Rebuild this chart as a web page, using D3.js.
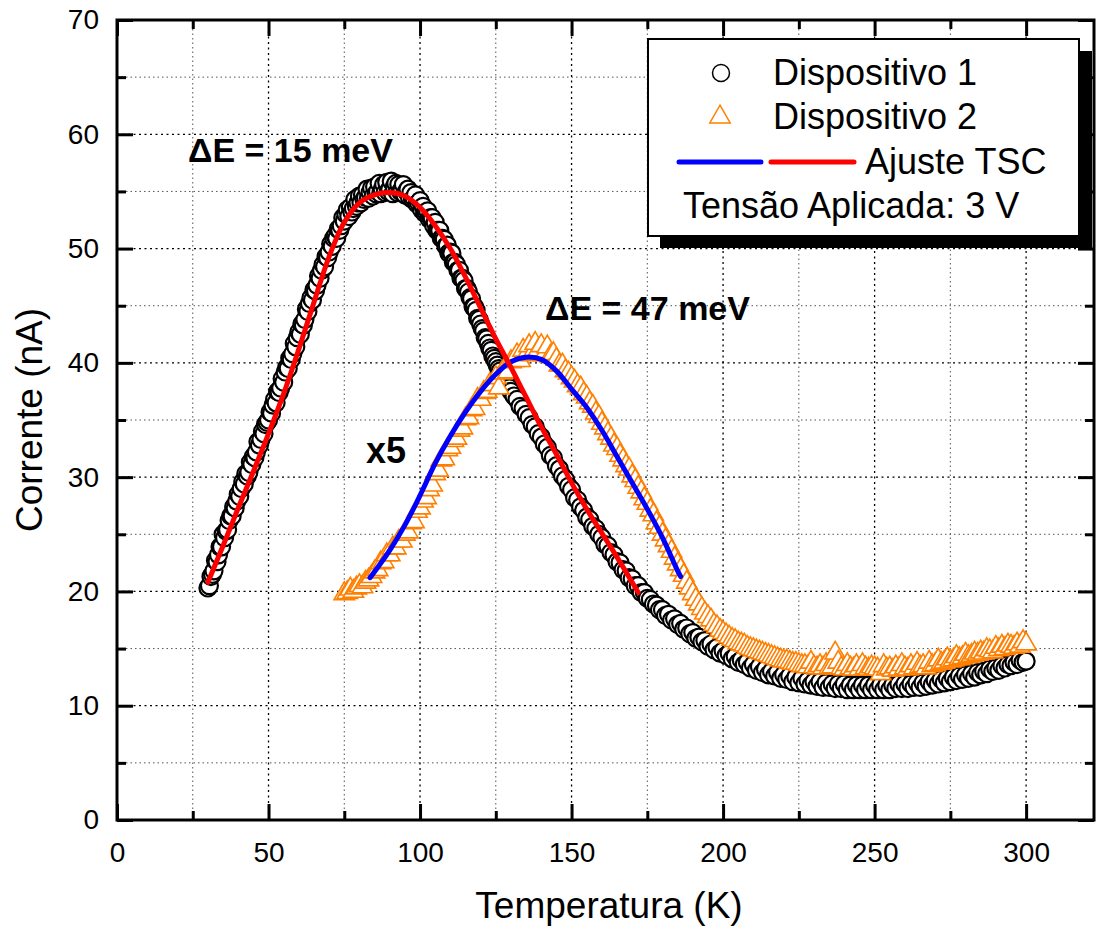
<!DOCTYPE html>
<html>
<head>
<meta charset="utf-8">
<script src="https://cdn.jsdelivr.net/npm/d3@7"></script>
<style>
  body { margin: 0; background: #fff; }
  svg { font-family: "Liberation Sans", Arial, sans-serif; }
</style>
</head>
<body>
<svg id="chart" width="1099" height="928"></svg>
<script>
// Dispositivo 1 (circulos): 0.5 K ate 130 K, depois 1 K
var dev1T = [
  30,30.5,31,31.5,32,32.5,33,33.5,34,34.5,35,35.5,36,36.5,37,37.5,38,38.5,39,39.5,
  40,40.5,41,41.5,42,42.5,43,43.5,44,44.5,45,45.5,46,46.5,47,47.5,48,48.5,49,49.5,
  50,50.5,51,51.5,52,52.5,53,53.5,54,54.5,55,55.5,56,56.5,57,57.5,58,58.5,59,59.5,
  60,60.5,61,61.5,62,62.5,63,63.5,64,64.5,65,65.5,66,66.5,67,67.5,68,68.5,69,69.5,
  70,70.5,71,71.5,72,72.5,73,73.5,74,74.5,75,75.5,76,76.5,77,77.5,78,78.5,79,79.5,
  80,80.5,81,81.5,82,82.5,83,83.5,84,84.5,85,85.5,86,86.5,87,87.5,88,88.5,89,89.5,
  90,90.5,91,91.5,92,92.5,93,93.5,94,94.5,95,95.5,96,96.5,97,97.5,98,98.5,99,99.5,
  100,100.5,101,101.5,102,102.5,103,103.5,104,104.5,105,105.5,106,106.5,107,107.5,108,108.5,109,109.5,
  110,110.5,111,111.5,112,112.5,113,113.5,114,114.5,115,115.5,116,116.5,117,117.5,118,118.5,119,119.5,
  120,120.5,121,121.5,122,122.5,123,123.5,124,124.5,125,125.5,126,126.5,127,127.5,128,128.5,129,129.5,
  130,131,132,133,134,135,136,137,138,139,140,141,142,143,144,145,146,147,148,149,
  150,151,152,153,154,155,156,157,158,159,160,161,162,163,164,165,166,167,168,169,
  170,171,172,173,174,175,176,177,178,179,180,181,182,183,184,185,186,187,188,189,
  190,191,192,193,194,195,196,197,198,199,200,201,202,203,204,205,206,207,208,209,
  210,211,212,213,214,215,216,217,218,219,220,221,222,223,224,225,226,227,228,229,
  230,231,232,233,234,235,236,237,238,239,240,241,242,243,244,245,246,247,248,249,
  250,251,252,253,254,255,256,257,258,259,260,261,262,263,264,265,266,267,268,269,
  270,271,272,273,274,275,276,277,278,279,280,281,282,283,284,285,286,287,288,289,
  290,291,292,293,294,295,296,297,298,299,300
];
var dev1I = [
  20.3,20.5,21.3,21.5,21.8,22.7,22.6,23.2,23.9,23.9, 25.0,24.7,25.3,25.4,26.2,26.6,26.6,27.4,27.3,27.9,
  28.5,28.3,29.0,29.6,29.4,30.3,30.1,30.4,31.3,31.1, 31.8,31.7,32.2,33.1,32.8,33.3,34.0,33.8,34.6,34.8,
  35.0,35.7,35.6,36.3,36.8,36.5,37.5,37.4,37.8,38.6, 38.3,39.2,39.6,39.5,40.4,40.3,40.8,41.7,41.4,42.2,
  42.7,42.5,43.4,43.3,43.8,44.7,44.5,45.2,45.7,45.5, 46.4,46.3,46.8,47.6,47.4,48.1,48.6,48.4,49.3,49.2,
  49.7,50.4,50.2,50.9,51.1,50.9,51.7,51.6,52.0,52.7, 52.4,53.0,53.4,52.8,53.6,53.2,53.5,54.3,53.7,54.0,
  54.6,54.0,54.7,54.3,54.5,55.2,54.4,54.9,55.3,54.6, 55.4,54.8,55.0,55.7,54.8,55.2,55.6,54.9,55.8,55.0,
  55.2,55.9,54.8,55.4,55.7,54.9,55.6,55.0,55.1,55.6, 54.7,55.0,55.2,54.5,54.9,54.3,54.4,54.7,53.9,54.0,
  54.2,53.4,53.7,53.1,53.2,53.3,52.6,52.7,52.7,52.0, 52.3,51.6,51.6,51.6,50.9,50.9,50.8,50.2,50.3,49.6,
  49.7,49.6,48.8,48.8,48.6,48.1,48.1,47.4,47.4,47.2, 46.5,46.5,46.2,45.7,45.6,44.9,44.9,44.6,43.9,43.8,
  43.4,43.0,42.8,42.2,42.1,41.7,41.3,41.1,40.6,40.4, 40.1,39.8,39.5,39.3,38.9,38.8,38.4,38.3,37.9,37.8,
  37.5,37.1,36.8,36.2,36.0,35.5,35.2,34.6,34.4,33.8, 33.5,32.9,32.6,31.9,31.7,31.0,30.7,30.1,29.8,29.2,
  28.9,28.2,28.0,27.4,27.1,26.5,26.3,25.7,25.5,25.0, 24.7,24.1,24.0,23.4,23.2,22.6,22.5,21.9,21.8,21.2,
  21.1,20.5,20.5,19.9,19.9,19.4,19.3,18.9,18.8,18.4, 18.4,17.9,18.0,17.5,17.6,17.1,17.2,16.7,16.8,16.3,
  16.4,15.9,16.0,15.6,15.7,15.2,15.4,14.9,15.1,14.6, 14.8,14.4,14.6,14.1,14.3,13.8,14.0,13.6,13.8,13.3,
  13.6,13.1,13.4,12.9,13.2,12.7,13.0,12.6,12.9,12.4, 12.7,12.3,12.6,12.1,12.5,12.0,12.4,11.9,12.2,11.8,
  12.1,11.7,12.1,11.6,12.0,11.6,11.9,11.5,11.9,11.5, 11.9,11.4,11.8,11.4,11.8,11.4,11.8,11.4,11.8,11.4,
  11.8,11.4,11.8,11.4,11.8,11.4,11.8,11.5,11.9,11.5, 11.9,11.5,11.9,11.6,12.0,11.6,12.0,11.7,12.1,11.8,
  12.2,11.9,12.3,12.0,12.4,12.1,12.5,12.2,12.6,12.3, 12.7,12.4,12.8,12.5,12.9,12.7,13.0,12.8,13.2,13.0,
  13.3,13.1,13.5,13.3,13.6,13.5,13.8,13.6,14.0,13.8, 13.9
];

// Dispositivo 2 (triangulos, x5)
var dev2T = [
  75,76,77,78,79,80,81,82,83,84,85,86,87,88,89,90,91,92,93,94,
  95,96,97,98,99,100,101,102,103,104,105,106,107,108,109,110,111,112,113,114,
  115,116,117,118,119,120,121,122,123,124,125,126,127,128,129,130,131,132,133,134,
  135,136,137,138,139,140,141,142,143,144,145,146,147,148,149,150,151,152,153,154,
  155,156,157,158,159,160,161,162,163,164,165,166,167,168,169,170,171,172,173,174,
  175,176,177,178,179,180,181,182,183,184,185,186,187,188,189,190,191,192,193,194,
  195,196,197,198,199,200,201,202,203,204,205,206,207,208,209,210,211,212,213,214,
  215,216,217,218,219,220,221,222,223,224,225,226,227,228,229,230,231,232,233,234,
  235,236,237,238,239,240,241,242,243,244,245,246,247,248,249,250,251,252,253,254,
  255,256,257,258,259,260,261,262,263,264,265,266,267,268,269,270,271,272,273,274,
  275,276,277,278,279,280,281,282,283,284,285,286,287,288,289,290,291,292,293,294,
  295,296,297,298,299,300
];
var dev2I = [
  19.8,19.9,20.2,20.0,20.3,20.5,20.4,20.8,21.0,21.3, 21.7,21.9,22.5,22.6,23.2,23.2,23.8,23.8,24.4,24.4,
  25.0,25.2,26.0,26.1,27.0,27.3,27.9,28.2,28.9,29.3, 30.3,30.6,31.5,31.6,32.4,32.6,33.2,33.4,34.1,34.3,
  35.1,35.2,35.9,36.0,36.8,36.8,37.4,37.5,38.1,38.1, 38.7,37.8,39.1,39.5,39.2,40.1,40.2,40.7,40.2,41.1,
  40.7,41.5,40.8,41.7,41.1,41.5,40.7,41.4,40.6,40.8, 40.3,39.8,39.8,39.3,39.1,38.7,38.4,38.0,37.8,37.3,
  37.0,36.5,36.2,35.6,35.3,34.7,34.3,33.8,33.4,32.8, 32.5,31.9,31.5,31.0,30.7,30.1,29.7,29.1,28.7,28.1,
  27.7,27.1,26.7,26.0,25.6,25.0,24.5,24.0,23.5,22.9, 22.4,21.9,21.4,20.8,20.3,19.8,19.3,18.9,18.5,18.1,
  17.8,17.5,17.1,16.9,16.6,16.4,16.2,16.0,15.8,15.7, 15.5,15.4,15.3,15.1,15.0,14.9,14.8,14.7,14.6,14.5,
  14.4,14.3,14.2,14.1,14.0,13.9,13.9,13.8,13.7,13.7, 13.6,13.5,13.5,13.4,13.8,13.4,13.3,13.5,13.3,13.6,
  13.3,13.4,14.6,13.8,13.3,13.2,13.6,13.3,13.2,13.5, 13.2,13.6,13.3,13.2,13.4,13.3,13.2,12.8,13.5,13.2,
  13.3,13.1,13.4,13.2,13.6,13.3,13.2,13.5,13.3,13.7, 13.4,13.5,13.3,13.8,13.5,13.6,14.0,13.7,13.8,14.1,
  13.9,14.0,14.3,14.1,14.2,14.5,14.3,14.4,14.6,14.5, 14.7,14.6,14.9,14.8,14.7,15.1,14.9,15.2,15.0,15.3,
  15.2,15.1,15.4,15.2,15.6,15.4
];

// Ajuste TSC
var fitRedT = [30,35,40,45,50,55,60,65,70,75,80,85,90,95,100,105,110,115,120,125,130,135,140,145,150,155,160,165,170,172];
var fitRedI = [20.8,24.0,27.3,30.5,33.8,37.3,41.2,45.3,49.3,52.3,54.0,54.7,54.9,54.6,53.6,52.0,50.0,47.5,44.8,42.1,39.6,37.0,34.4,32.0,29.5,27.2,25.1,23.0,20.8,19.9];
var fitBlueT = [83.5,90,95,100,105,110,115,120,125,130,135,140,145,150,155,160,165,170,175,180,185,186];
var fitBlueI = [21.2,23.6,25.8,28.4,31.2,33.6,35.7,37.5,39.0,40.1,40.5,40.3,39.3,37.7,36.1,34.1,31.8,29.5,27.2,24.7,21.8,21.3];

var xMajor = [0, 50, 100, 150, 200, 250, 300];
var xMinor = [25, 75, 125, 175, 225, 275];
var yMajor = [0, 10, 20, 30, 40, 50, 60, 70];
var yMinor = [5, 15, 25, 35, 45, 55, 65];

var legendItems = ["Dispositivo 1", "Dispositivo 2", "Ajuste TSC", "Tensão Aplicada: 3 V"];

var FONT = "Liberation Sans, Arial, sans-serif";
var svg = d3.select("#chart");
var mLeft = 117, mRight = 1094, mTop = 20, mBottom = 820;

var x = d3.scaleLinear().domain([0, 322.4]).range([mLeft, mRight]);
var y = d3.scaleLinear().domain([0, 70]).range([mBottom, mTop]);

// grid
var grid = svg.append("g");
grid.selectAll(".gxm").data(xMinor).enter().append("line")
  .attr("x1", d => x(d)).attr("x2", d => x(d)).attr("y1", mTop).attr("y2", mBottom)
  .attr("stroke", "#555").attr("stroke-width", 1).attr("stroke-dasharray", "1.5,3");
grid.selectAll(".gym").data(yMinor).enter().append("line")
  .attr("y1", d => y(d)).attr("y2", d => y(d)).attr("x1", mLeft).attr("x2", mRight)
  .attr("stroke", "#555").attr("stroke-width", 1).attr("stroke-dasharray", "1.5,3");
grid.selectAll(".gxM").data(xMajor.slice(1)).enter().append("line")
  .attr("x1", d => x(d)).attr("x2", d => x(d)).attr("y1", mTop).attr("y2", mBottom)
  .attr("stroke", "#000").attr("stroke-width", 1.3).attr("stroke-dasharray", "2,3.5");
grid.selectAll(".gyM").data(yMajor.slice(1, -1)).enter().append("line")
  .attr("y1", d => y(d)).attr("y2", d => y(d)).attr("x1", mLeft).attr("x2", mRight)
  .attr("stroke", "#000").attr("stroke-width", 1.3).attr("stroke-dasharray", "2,3.5");

// axes (ticks inward on all four sides)
function styleAxis(g) {
  g.attr("font-family", FONT).attr("font-size", 28);
  g.selectAll(".domain").remove();
  g.selectAll(".tick line").attr("stroke", "#000").attr("stroke-width", 3);
  g.selectAll("text").attr("fill", "#000");
}
svg.append("g").attr("transform", "translate(0," + mBottom + ")")
  .call(d3.axisBottom(x).tickValues(xMajor).tickSize(-16).tickPadding(22).tickFormat(d3.format("d")))
  .call(styleAxis);
svg.append("g").attr("transform", "translate(0," + mBottom + ")")
  .call(d3.axisBottom(x).tickValues(xMinor).tickSize(-9).tickFormat(""))
  .call(styleAxis);
svg.append("g").attr("transform", "translate(0," + mTop + ")")
  .call(d3.axisTop(x).tickValues(xMajor).tickSize(-16).tickFormat(""))
  .call(styleAxis);
svg.append("g").attr("transform", "translate(0," + mTop + ")")
  .call(d3.axisTop(x).tickValues(xMinor).tickSize(-9).tickFormat(""))
  .call(styleAxis);
svg.append("g").attr("transform", "translate(" + mLeft + ",0)")
  .call(d3.axisLeft(y).tickValues(yMajor).tickSize(-16).tickPadding(18).tickFormat(d3.format("d")))
  .call(styleAxis);
svg.append("g").attr("transform", "translate(" + mLeft + ",0)")
  .call(d3.axisLeft(y).tickValues(yMinor).tickSize(-9).tickFormat(""))
  .call(styleAxis);
svg.append("g").attr("transform", "translate(" + mRight + ",0)")
  .call(d3.axisRight(y).tickValues(yMajor).tickSize(-16).tickFormat(""))
  .call(styleAxis);
svg.append("g").attr("transform", "translate(" + mRight + ",0)")
  .call(d3.axisRight(y).tickValues(yMinor).tickSize(-9).tickFormat(""))
  .call(styleAxis);

// data
var d1 = dev1T.map((t, i) => [t, dev1I[i]]);
var d2 = dev2T.map((t, i) => [t, dev2I[i]]);

svg.append("g").selectAll("circle").data(d1).enter().append("circle")
  .attr("cx", d => x(d[0])).attr("cy", d => y(d[1])).attr("r", 8.5)
  .attr("fill", "#fff").attr("stroke", "#000").attr("stroke-width", 2.2);

var tri = d3.symbol().type(d3.symbolTriangle).size(180);
svg.append("g").selectAll("path").data(d2).enter().append("path")
  .attr("d", tri)
  .attr("transform", d => "translate(" + x(d[0]) + "," + y(d[1]) + ")")
  .attr("fill", "#fff").attr("stroke", "#ff7f00").attr("stroke-width", 1.6);

var line = d3.line().x(d => x(d[0])).y(d => y(d[1])).curve(d3.curveCatmullRom);
svg.append("path").datum(fitBlueT.map((t, i) => [t, fitBlueI[i]]))
  .attr("d", line).attr("fill", "none").attr("stroke", "#0000ff").attr("stroke-width", 5)
  .attr("stroke-linecap", "round");
svg.append("path").datum(fitRedT.map((t, i) => [t, fitRedI[i]]))
  .attr("d", line).attr("fill", "none").attr("stroke", "#ff0000").attr("stroke-width", 5)
  .attr("stroke-linecap", "round");

// frame
svg.append("rect").attr("x", mLeft).attr("y", mTop).attr("width", mRight - mLeft).attr("height", mBottom - mTop)
  .attr("fill", "none").attr("stroke", "#000").attr("stroke-width", 3);

// annotations
svg.append("text").attr("x", 188).attr("y", 162).attr("font-size", 34).attr("font-weight", "bold")
  .text("ΔE = 15 meV");
svg.append("text").attr("x", 545).attr("y", 320).attr("font-size", 34).attr("font-weight", "bold")
  .text("ΔE = 47 meV");
svg.append("text").attr("x", 366).attr("y", 463).attr("font-size", 36).attr("font-weight", "bold")
  .text("x5");

// legend
var lg = svg.append("g");
lg.append("rect").attr("x", 660).attr("y", 51).attr("width", 432).attr("height", 197).attr("fill", "#000");
lg.append("rect").attr("x", 648).attr("y", 39).attr("width", 431).attr("height", 197)
  .attr("fill", "#fff").attr("stroke", "#000").attr("stroke-width", 2);
lg.append("circle").attr("cx", 721).attr("cy", 73).attr("r", 8.5)
  .attr("fill", "#fff").attr("stroke", "#000").attr("stroke-width", 1.5);
lg.append("path").attr("d", tri).attr("transform", "translate(720,117)")
  .attr("fill", "#fff").attr("stroke", "#ff7f00").attr("stroke-width", 1.5);
lg.append("line").attr("x1", 679).attr("x2", 761).attr("y1", 162).attr("y2", 162)
  .attr("stroke", "#0000ff").attr("stroke-width", 5).attr("stroke-linecap", "round");
lg.append("line").attr("x1", 771).attr("x2", 854).attr("y1", 162).attr("y2", 162)
  .attr("stroke", "#ff0000").attr("stroke-width", 5).attr("stroke-linecap", "round");
var lgPos = [[773, 85], [773, 129], [865, 174], [683, 218]];
lg.selectAll("text.lt").data(legendItems).enter().append("text")
  .attr("x", (d, i) => lgPos[i][0]).attr("y", (d, i) => lgPos[i][1])
  .attr("font-size", 36).text(d => d);

// axis titles
svg.append("text").attr("x", 609).attr("y", 918).attr("text-anchor", "middle")
  .attr("font-size", 37).text("Temperatura (K)");
svg.append("text").attr("transform", "translate(42," + ((mTop + mBottom) / 2) + ") rotate(-90)")
  .attr("text-anchor", "middle").attr("font-size", 37).text("Corrente (nA)");
</script>
</body>
</html>
